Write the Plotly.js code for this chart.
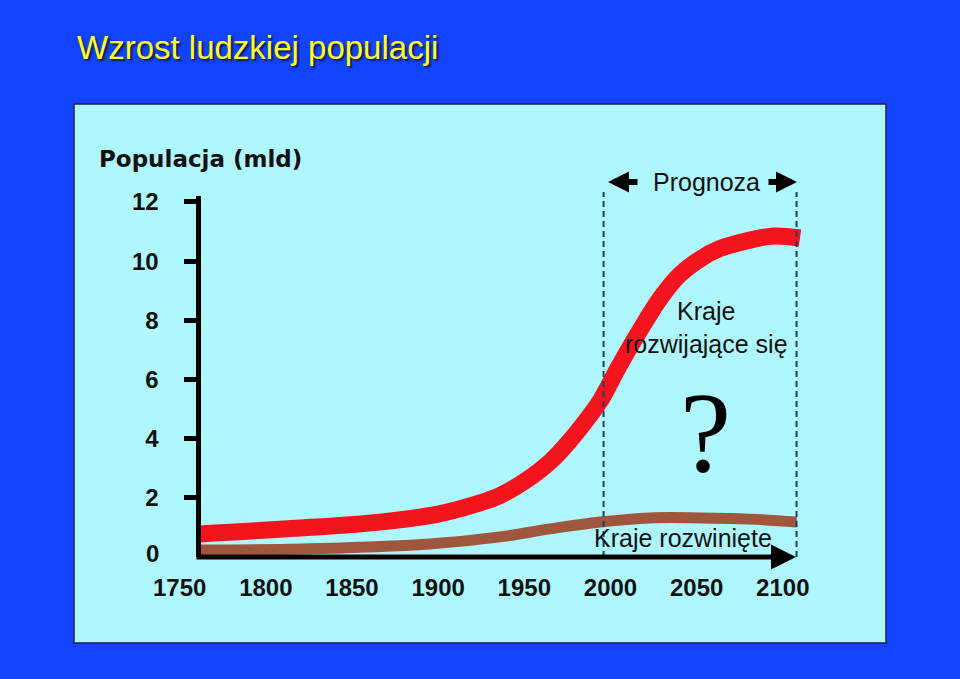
<!DOCTYPE html>
<html><head><meta charset="utf-8">
<script src="https://cdn.plot.ly/plotly-3.0.1.min.js"></script>
<style>html,body{margin:0;padding:0;background:#1244FF;} #chart{width:960px;height:679px;}</style>
</head><body><div id="chart"></div>
<script>
// ---- data ----
const developingYears = [1761, 1820, 1866, 1900, 1920, 1936, 1950, 1965, 1976, 1985, 1994, 2005, 2017, 2029, 2040, 2052, 2063, 2081, 2095, 2110];
const developingPop   = [0.78, 0.98, 1.18, 1.45, 1.75, 2.08, 2.55, 3.22, 3.90, 4.55, 5.27, 6.45, 7.65, 8.75, 9.53, 10.07, 10.41, 10.71, 10.85, 10.78];
const developedYears  = [1761, 1820, 1895, 1936, 1965, 1994, 2023, 2052, 2081, 2108];
const developedPop    = [0.24, 0.27, 0.44, 0.68, 0.95, 1.18, 1.32, 1.32, 1.28, 1.18];
const xTickVals = [1750, 1800, 1850, 1900, 1950, 2000, 2050, 2100];
const yTickVals = [2, 4, 6, 8, 10, 12];
const yZeroLabel = '0';
const forecastStart = 1996, forecastEnd = 2108;
const titleText = 'Wzrost ludzkiej populacji';
const yTitleText = 'Populacja (mld)';
const forecastText = 'Prognoza';
const developingText = 'Kraje<br>rozwijające się';
const developedText = 'Kraje rozwinięte';
const questionText = '?';

// ---- layout helpers ----
const L = 160, R = 150, T = 196, B = 122;
const PW = 960 - L - R, PH = 679 - T - B;
const px = v => (v - L) / PW;
const py = v => (679 - B - v) / PH;

const sans = 'Liberation Sans, Arial, sans-serif';
const textColor = '#111';

const traces = [
  {x: developedYears, y: developedPop, type: 'scatter', mode: 'lines',
   line: {color: '#A0563C', width: 11, shape: 'spline', smoothing: 1}, hoverinfo: 'skip'},
  {x: developingYears, y: developingPop, type: 'scatter', mode: 'lines',
   line: {color: '#F5141E', width: 17, shape: 'spline', smoothing: 1}, hoverinfo: 'skip'}
];

const layout = {
  width: 960, height: 679,
  paper_bgcolor: '#1244FF', plot_bgcolor: 'rgba(0,0,0,0)',
  margin: {l: L, r: R, t: T, b: B},
  showlegend: false,
  title: {text: titleText, xref: 'container', yref: 'container', x: 77/960, xanchor: 'left',
          y: 1 - 47/679, yanchor: 'middle',
          font: {family: sans, size: 33, color: '#FFFF2E', shadow: '2px 2px 2px #1a1a40'}},
  xaxis: {range: [1738.57, 2115.8], showline: false, zeroline: false, showgrid: false,
          ticks: '', tickvals: xTickVals, ticktext: xTickVals.map(String),
          tickfont: {family: sans, size: 24, color: '#111', weight: 'bold'}, ticklabelstandoff: 14,
          fixedrange: true},
  yaxis: {range: [0, 12.2], anchor: 'free', position: px(197.5), showline: true, linewidth: 5, linecolor: '#000',
          zeroline: false, showgrid: false, ticks: 'outside', ticklen: 12, tickwidth: 5, tickcolor: '#000',
          tickvals: yTickVals, ticktext: yTickVals.map(String),
          tickfont: {family: sans, size: 24, color: '#111', weight: 'bold'}, ticklabelstandoff: 20,
          fixedrange: true},
  shapes: [
    {type: 'rect', xref: 'paper', yref: 'paper', x0: px(74), x1: px(886), y0: py(643), y1: py(104),
     fillcolor: '#AEF7FF', line: {color: '#1b2440', width: 1.5}, layer: 'below'},
    {type: 'line', xref: 'x', yref: 'paper', x0: forecastStart, x1: forecastStart, y0: 0, y1: py(192),
     line: {color: '#1F3F5F', width: 2, dash: '6px,4px'}, layer: 'above'},
    {type: 'line', xref: 'x', yref: 'paper', x0: forecastEnd, x1: forecastEnd, y0: 0, y1: py(192),
     line: {color: '#1F3F5F', width: 2, dash: '6px,4px'}, layer: 'above'}
  ],
  annotations: [
    {text: yTitleText, xref: 'paper', yref: 'paper', x: px(97), y: py(159), xanchor: 'left', yanchor: 'middle',
     showarrow: false, font: {family: 'DejaVu Sans, sans-serif', size: 23, color: textColor, weight: 'bold'}},
    {text: yZeroLabel, xref: 'paper', yref: 'paper', x: px(161), y: py(553), xanchor: 'right', yanchor: 'middle',
     showarrow: false, font: {family: sans, size: 24, color: '#111', weight: 'bold'}},
    {text: forecastText, xref: 'paper', yref: 'paper', x: px(706), y: py(182), xanchor: 'center', yanchor: 'middle',
     showarrow: false, font: {family: sans, size: 25, color: textColor}},
    {text: '', xref: 'paper', yref: 'paper', x: px(608), y: py(182), axref: 'pixel', ayref: 'pixel', ax: 31, ay: 0,
     showarrow: true, arrowhead: 2, arrowwidth: 6, arrowsize: 0.7, arrowcolor: '#000'},
    {text: '', xref: 'paper', yref: 'paper', x: px(797), y: py(182), axref: 'pixel', ayref: 'pixel', ax: -30, ay: 0,
     showarrow: true, arrowhead: 2, arrowwidth: 6, arrowsize: 0.7, arrowcolor: '#000'},
    {text: developingText, xref: 'paper', yref: 'paper', x: px(706), y: py(327), xanchor: 'center', yanchor: 'middle',
     showarrow: false, font: {family: sans, size: 25, color: textColor}},
    {text: questionText, xref: 'paper', yref: 'paper', x: px(705), y: py(432), xanchor: 'center', yanchor: 'middle',
     showarrow: false, font: {family: 'Liberation Serif, Times New Roman, serif', size: 115, color: '#000'}},
    {text: developedText, xref: 'paper', yref: 'paper', x: px(683), y: py(538), xanchor: 'center', yanchor: 'middle',
     showarrow: false, font: {family: sans, size: 25, color: textColor}},
    {text: '', xref: 'paper', yref: 'paper', x: px(796), y: py(557), axref: 'pixel', ayref: 'pixel', ax: -(796 - 195), ay: 0,
     showarrow: true, arrowhead: 2, arrowwidth: 5, arrowsize: 1.0, arrowcolor: '#000'}
  ]
};

Plotly.newPlot('chart', traces, layout, {displayModeBar: false, staticPlot: true});
</script>
</body></html>
